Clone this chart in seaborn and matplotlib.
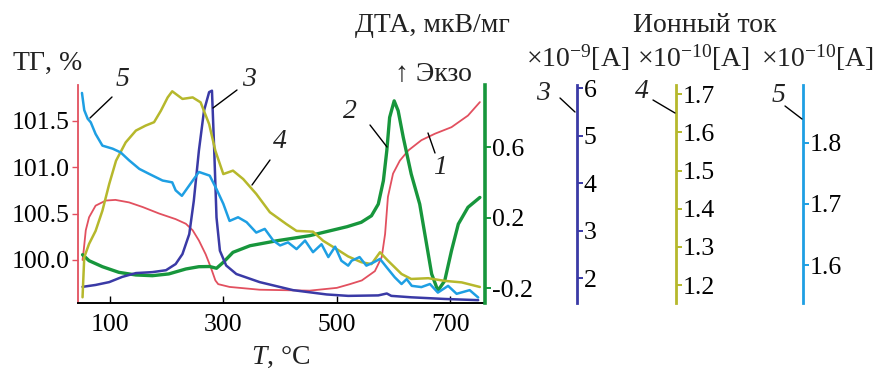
import numpy as np
import pandas as pd
import matplotlib
matplotlib.use("Agg")
import matplotlib.pyplot as plt
import matplotlib.ticker as mticker
import seaborn as sns

# ---------------- data ----------------
t_tg = [52, 54, 57.7, 63.5, 75, 93, 110, 134, 158, 187, 216, 234, 246, 257, 269, 278,
        286, 291, 311, 364, 452, 500, 523, 544, 567, 579, 585, 590, 599, 611, 626, 649,
        673, 702, 731, 752]
tg = [100.0, 100.10, 100.32, 100.46, 100.585, 100.64, 100.647, 100.62, 100.57, 100.50,
      100.44, 100.39, 100.32, 100.21, 100.06, 99.92, 99.78, 99.74, 99.71, 99.68, 99.67,
      99.70, 99.74, 99.78, 99.88, 100.03, 100.28, 100.68, 100.93, 101.07, 101.18, 101.29,
      101.36, 101.43, 101.555, 101.70]

t_dta = [52, 63.5, 87, 116, 146, 175, 204, 234, 257, 276, 288, 300, 317, 347, 394, 452,
         518, 543, 561, 573, 582, 588, 593, 601, 608, 617, 631, 646, 658, 667, 678, 690,
         702, 714, 731, 752]
dta = [-0.011, -0.045, -0.079, -0.111, -0.126, -0.13, -0.12, -0.092, -0.079, -0.078,
       -0.088, -0.054, 0.0025, 0.04, 0.068, 0.097, 0.148, 0.173, 0.21, 0.276, 0.409, 0.579,
       0.768, 0.862, 0.806, 0.655, 0.447, 0.276, 0.05, -0.12, -0.215, -0.159, 0.012,
       0.163, 0.258, 0.314]

t_i3 = [52, 75, 99, 122, 146, 175, 199, 216, 228, 240, 248, 257, 266, 275, 280, 284,
        288, 294, 305, 323, 364, 423, 482, 520, 573, 588, 596, 631, 690, 749]
i3 = [1.82, 1.86, 1.92, 2.03, 2.11, 2.13, 2.17, 2.30, 2.51, 2.93, 3.63, 4.69, 5.53, 5.92,
      5.95, 4.69, 3.28, 2.58, 2.27, 2.09, 1.92, 1.75, 1.66, 1.63, 1.64, 1.68, 1.63, 1.60,
      1.565, 1.54]

t_i4 = [52, 55, 63.5, 75, 87, 99, 111, 128, 146, 163, 178, 190, 202, 210, 228, 246, 260,
        275, 286, 300, 317, 335, 358, 382, 411, 429, 458, 476, 500, 520, 543, 561, 576,
        590, 614, 631, 661, 690, 720, 752]
i4 = [1.168, 1.273, 1.308, 1.342, 1.395, 1.465, 1.526, 1.574, 1.605, 1.618, 1.627, 1.657,
      1.692, 1.708, 1.688, 1.692, 1.679, 1.622, 1.552, 1.491, 1.50, 1.478, 1.439, 1.391,
      1.36, 1.342, 1.34, 1.316, 1.294, 1.275, 1.26, 1.255, 1.286, 1.264, 1.229, 1.216,
      1.218, 1.211, 1.207, 1.195]

t_i5 = [51, 55, 61, 66.5, 75, 87, 105, 119, 134, 152, 169, 193, 210, 216, 227, 240, 257,
        276, 288, 300, 311, 326, 341, 358, 373, 388, 400, 414, 429, 444, 458, 473, 485,
        497, 508, 520, 526, 540, 552, 564, 576, 588, 602, 614, 623, 632, 649, 664, 678,
        696, 711, 734, 749]
i5 = [1.881, 1.853, 1.839, 1.833, 1.814, 1.795, 1.79, 1.784, 1.771, 1.757, 1.749, 1.738,
      1.735, 1.722, 1.713, 1.73, 1.752, 1.746, 1.724, 1.70, 1.672, 1.678, 1.67, 1.653,
      1.659, 1.64, 1.632, 1.637, 1.626, 1.64, 1.621, 1.634, 1.613, 1.63, 1.607, 1.599,
      1.607, 1.613, 1.599, 1.604, 1.61, 1.596, 1.58, 1.569, 1.577, 1.566, 1.564, 1.569,
      1.555, 1.566, 1.553, 1.559, 1.547]

x_ticks = [100, 300, 500, 700]
tg_ticks = [100.0, 100.5, 101.0, 101.5]
dta_ticks = [-0.2, 0.2, 0.6]
i3_ticks = [2, 3, 4, 5, 6]
i4_ticks = [1.2, 1.3, 1.4, 1.5, 1.6, 1.7]
i5_ticks = [1.6, 1.7, 1.8]

# ---------------- style ----------------
sns.set_theme(style="white")
plt.rcParams["font.family"] = ["Liberation Serif", "DejaVu Serif"]
plt.rcParams["mathtext.fontset"] = "custom"
plt.rcParams["mathtext.rm"] = "Liberation Serif"
plt.rcParams["mathtext.it"] = "Liberation Serif:italic"
plt.rcParams["lines.solid_joinstyle"] = "round"
plt.rcParams["lines.solid_capstyle"] = "round"
FS = 18.5   # tick labels
FH = 20     # headings

C_TG = "#e2505f"
C_DTA = "#17963c"
C_I3 = "#3a3aa6"
C_I4 = "#b6b82c"
C_I5 = "#1e9fe3"

W, H = 873, 372
fig = plt.figure(figsize=(W / 100, H / 100), dpi=100)

def fx(x):
    return x / W

def fy(y):
    return 1 - y / H

L, R, T, B = 78, 485, 85, 303
ax = fig.add_axes([fx(L), fy(B), fx(R) - fx(L), fy(T) - fy(B)])
ax.set_facecolor("none")

sns.lineplot(x=t_tg, y=tg, ax=ax, color=C_TG, lw=1.3, sort=False)
ax.set_xlim(44, 761)
ax.set_ylim(99.537, 101.884)
ax.set_xticks(x_ticks)
ax.set_yticks(tg_ticks)
ax.yaxis.set_major_formatter(mticker.FormatStrFormatter("%.1f"))
ax.tick_params(axis="x", direction="in", length=5, width=1, colors="black",
               labelsize=FS, pad=8, bottom=True)
ax.tick_params(axis="y", direction="out", length=4, width=1, color=C_TG,
               labelcolor="black", labelsize=FS, pad=2, left=True)
for s in ["top", "right"]:
    ax.spines[s].set_visible(False)
ax.spines["left"].set_color(C_TG)
ax.spines["left"].set_linewidth(1.3)
ax.spines["bottom"].set_color("black")
ax.spines["bottom"].set_linewidth(1.4)
ax.set_xlabel("")
ax.set_ylabel("")

def twin(color, lw_spine, frac):
    a = ax.twinx()
    a.set_facecolor("none")
    for s in ["top", "left", "bottom"]:
        a.spines[s].set_visible(False)
    a.spines["right"].set_position(("axes", frac))
    a.spines["right"].set_color(color)
    a.spines["right"].set_linewidth(lw_spine)
    a.tick_params(axis="y", direction="out", length=4, width=1.4, color=color,
                  labelcolor="black", labelsize=FS, pad=1, right=True)
    return a

ax2 = twin(C_DTA, 2.6, 1.0)
sns.lineplot(x=t_dta, y=dta, ax=ax2, color=C_DTA, lw=2.4, sort=False)
ax2.set_ylim(-0.285, 0.952)
ax2.set_yticks(dta_ticks)
ax2.yaxis.set_major_formatter(mticker.FormatStrFormatter("%.1f"))
ax2.set_ylabel("")

span = R - L
ax3 = twin(C_I3, 2.0, (577 - L) / span)
sns.lineplot(x=t_i3, y=i3, ax=ax3, color=C_I3, lw=1.8, sort=False)
ax3.set_ylim(1.48, 6.07)
ax3.set_yticks(i3_ticks)
ax3.set_ylabel("")

ax4 = twin(C_I4, 2.0, (676 - L) / span)
sns.lineplot(x=t_i4, y=i4, ax=ax4, color=C_I4, lw=1.8, sort=False)
ax4.set_ylim(1.153, 1.7245)
ax4.set_yticks(i4_ticks)
ax4.yaxis.set_major_formatter(mticker.FormatStrFormatter("%.1f"))
ax4.set_ylabel("")

ax5 = twin(C_I5, 2.0, (803 - L) / span)
sns.lineplot(x=t_i5, y=i5, ax=ax5, color=C_I5, lw=1.8, sort=False)
ax5.set_ylim(1.538, 1.894)
ax5.set_yticks(i5_ticks)
ax5.yaxis.set_major_formatter(mticker.FormatStrFormatter("%.1f"))
ax5.set_ylabel("")

ax.set_xlim(44, 761)

# ---------------- texts ----------------
def txt(x, y, s, ha="center", va="center", size=FH, **kw):
    fig.text(fx(x), fy(y), s, ha=ha, va=va, fontsize=size, color="#222222", **kw)

txt(12, 63, r"ТГ, $\mathit{\%}$", ha="left")
txt(432, 25, "ДТА, мкВ/мг")
txt(433, 74, "↑ Экзо")
txt(705, 25, "Ионный ток")
txt(578, 58, r"$\times$10$^{-9}$[A]")
txt(694, 58, r"$\times$10$^{-10}$[A]")
txt(818, 58, r"$\times$10$^{-10}$[A]")
txt(281, 357, r"$T$, °C")

# curve labels with leader lines
labels = [
    ("5", 122, 80, (90, 118), (112, 97)),
    ("3", 249, 80, (213, 108), (237, 90)),
    ("4", 280, 142, (252, 185), (270, 160)),
    ("2", 350, 112, (387, 147), (370, 125)),
    ("1", 440, 167, (428, 133), (435, 153)),
    ("3", 543, 93, (575, 112), (560, 98)),
    ("4", 642, 92, (675, 113), (653, 100)),
    ("5", 778, 95, (802, 119), (785, 106)),
]
for s, x, y, p0, p1 in labels:
    txt(x, y, s, fontstyle="italic")
    fig.add_artist(plt.Line2D([fx(p0[0]), fx(p1[0])], [fy(p0[1]), fy(p1[1])],
                              transform=fig.transFigure, color="black", lw=1.0))

fig.savefig("out.png", dpi=100)
